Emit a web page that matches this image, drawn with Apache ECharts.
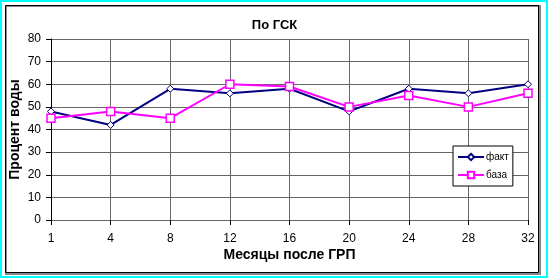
<!DOCTYPE html>
<html>
<head>
<meta charset="utf-8">
<script src="https://cdn.jsdelivr.net/npm/echarts@6/dist/echarts.min.js"></script>
<style>
html,body{margin:0;padding:0;background:#fff;}
#chart{width:549px;height:279px;}
</style>
</head>
<body>
<div id="chart"></div>
<script>
// months after frac
const months = ['1', '4', '8', '12', '16', '20', '24', '28', '32']
const fakt = [48, 42, 58, 56, 58, 48, 58, 56, 60]
const baza = [45, 48, 45, 60, 59, 50, 55, 50, 56]
const yTicks = { min: 0, max: 80, step: 10 }

const font = 'Liberation Sans, Arial, sans-serif'
let myChart = echarts.init(document.getElementById('chart'))
myChart.setOption({
  animation: false,
  backgroundColor: '#fff',
  textStyle: { fontFamily: font, color: '#000' },
  title: {
    text: 'По ГСК',
    left: 'center',
    top: 14,
    textStyle: { fontSize: 13, fontWeight: 'bold', color: '#000', fontFamily: font }
  },
  graphic: [
    { type: 'rect', shape: { x: 1, y: 1, width: 546, height: 276 }, style: { fill: 'none', stroke: '#00ffff', lineWidth: 2 }, z: 100 },
    { type: 'rect', shape: { x: 6, y: 6, width: 534, height: 268 }, style: { fill: 'none', stroke: '#888', lineWidth: 2 }, z: 99 },
    { type: 'rect', shape: { x: 5.5, y: 5.5, width: 533, height: 267 }, style: { fill: 'none', stroke: '#000', lineWidth: 1 }, z: 100 }
  ],
  legend: {
    orient: 'vertical',
    left: 453,
    top: 146,
    padding: [6, 4, 6, 4],
    itemGap: 8,
    itemWidth: 26,
    itemHeight: 8,
    backgroundColor: '#fff',
    borderColor: '#000',
    borderWidth: 1,
    textStyle: { fontSize: 10, color: '#000', fontFamily: font, padding: [0, 0, 0, -3] },
    data: ['факт', 'база']
  },
  grid: { left: 51, right: 21, top: 39, bottom: 59, outerBoundsMode: 'none' },
  xAxis: {
    type: 'category',
    boundaryGap: false,
    data: months,
    name: 'Месяцы после ГРП',
    nameLocation: 'middle',
    nameGap: 28,
    nameMoveOverlap: false,
    nameTextStyle: { fontSize: 14, fontWeight: 'bold', color: '#000', fontFamily: font },
    axisLine: { lineStyle: { color: '#666', width: 1 } },
    axisTick: { show: true, length: 5, lineStyle: { color: '#000' } },
    axisLabel: { fontSize: 12, color: '#000', margin: 13 },
    splitLine: { show: true, lineStyle: { color: '#666', width: 1 } }
  },
  yAxis: {
    type: 'value',
    min: yTicks.min,
    max: yTicks.max,
    interval: yTicks.step,
    name: 'Процент воды',
    nameLocation: 'middle',
    nameGap: 29,
    nameMoveOverlap: false,
    nameTextStyle: { fontSize: 14, fontWeight: 'bold', color: '#000', fontFamily: font },
    axisLine: { show: true, lineStyle: { color: '#000', width: 1 } },
    axisTick: { show: true, length: 5, lineStyle: { color: '#000' } },
    axisLabel: { fontSize: 12, color: '#000', margin: 10 },
    splitLine: { show: true, lineStyle: { color: '#666', width: 1 } }
  },
  series: [
    {
      name: 'факт',
      type: 'line',
      data: fakt,
      symbol: 'diamond',
      symbolSize: 7,
      color: '#000080',
      lineStyle: { color: '#000080', width: 2 },
      itemStyle: { color: '#fff', borderColor: '#000080', borderWidth: 1 }
    },
    {
      name: 'база',
      type: 'line',
      data: baza,
      symbol: 'rect',
      symbolSize: 8,
      color: '#ff00ff',
      lineStyle: { color: '#ff00ff', width: 2 },
      itemStyle: { color: '#fff', borderColor: '#ff00ff', borderWidth: 1.5 }
    }
  ]
})
</script>
</body>
</html>
